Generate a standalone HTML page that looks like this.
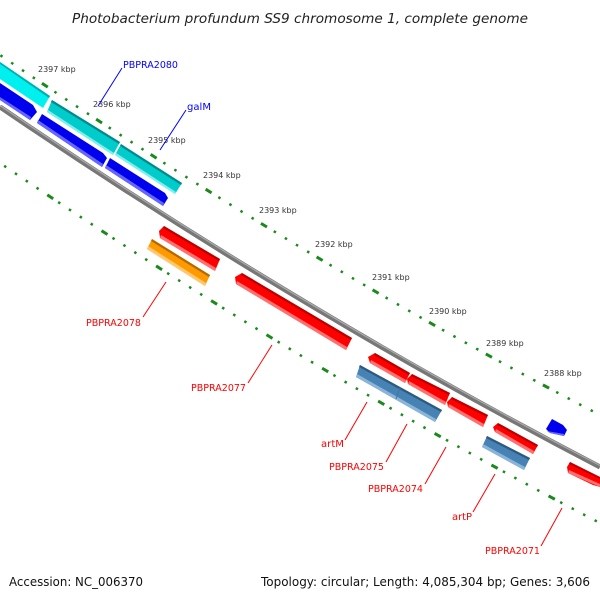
<!DOCTYPE html>
<html><head><meta charset="utf-8"><style>
body{margin:0;background:#fff}
svg{display:block}
text{font-family:"DejaVu Sans","Liberation Sans",sans-serif}
</style></head><body>
<svg width="600" height="600" viewBox="0 0 600 600" xmlns="http://www.w3.org/2000/svg">
<rect width="600" height="600" fill="#fff"/>
<text x="300" y="23" text-anchor="middle" font-size="13" font-style="italic" fill="#222" textLength="456" lengthAdjust="spacingAndGlyphs">Photobacterium profundum SS9 chromosome 1, complete genome</text>

<path d="M0,55 Q300,259 600,415" fill="none" stroke="#1a8a1a" stroke-width="2.5" stroke-dasharray="2.5 10.5" stroke-dashoffset="-0.5"/>
<path d="M0,55 Q300,259 600,415" fill="none" stroke="#1a8a1a" stroke-width="3" stroke-dasharray="7 58" stroke-dashoffset="-50.5"/>
<path d="M0,163 Q300,367 600,523" fill="none" stroke="#1a8a1a" stroke-width="2.5" stroke-dasharray="2.5 10.5" stroke-dashoffset="-5"/>
<path d="M0,163 Q300,367 600,523" fill="none" stroke="#1a8a1a" stroke-width="3" stroke-dasharray="7 58" stroke-dashoffset="-57"/>

<path d="M0,107 Q300,311 600,467" fill="none" stroke="#777" stroke-width="5"/>
<path d="M0,105.5 Q300,309.5 600,465.5" fill="none" stroke="#aaa" stroke-width="1.2"/>

<polygon points="0,62 50,96 43,108 0,79" fill="#00f0f0"/>
<polygon points="0,62 50,96 49,98 0,64" fill="#00b0b0"/>
<polygon points="52,100 120,142 113,155 47,112" fill="#00cccc"/>
<polygon points="52,100 120,142 119,144 51,102" fill="#008b8b"/>
<polygon points="48,110 114,153 113,155 47,112" fill="#80eeee"/>
<polygon points="121,144 182,183 175,194 115,155" fill="#00cccc"/>
<polygon points="121,144 182,183 181,185 120,146" fill="#008b8b"/>
<polygon points="116,153 176,192 175,194 115,155" fill="#80eeee"/>

<polygon points="0,83 33,105 37,112 30,120 0,100" fill="#0000ee"/>
<polygon points="0,97 31,117 30,120 0,100" fill="#6666ff"/>
<polygon points="42,114 103,153 107,158 102,167 37,123" fill="#0000ee"/>
<polygon points="38,120 103,164 102,167 37,123" fill="#6666ff"/>
<polygon points="110,158 165,193 168,198 163,206 105,168" fill="#0000ee"/>
<polygon points="106,165 164,203 163,206 105,168" fill="#6666ff"/>
<polygon points="552,419 563,425 567,430 564,436 550,433 546,429" fill="#0000ee"/>
<polygon points="547,431 564,434 564,436 550,433" fill="#6666ff"/>

<polygon points="152,239 210,275 205,286 147,249" fill="#ff9900"/>
<polygon points="152,239 210,275 209,277 151,241" fill="#b36b00"/>
<polygon points="148,246 206,283 205,286 147,249" fill="#ffc870"/>

<g fill="#ff0000">
<polygon points="164,226 220,259 215,271 160,238 159,231"/>
<polygon points="242,273 352,338 346,350 236,284 235,277"/>
<polygon points="375,353 410,373 405,383 370,363 368,357"/>
<polygon points="412,374 450,393 445,405 408,384 407,379"/>
<polygon points="452,397 488,415 483,427 448,407 447,402"/>
<polygon points="498,423 538,445 533,454 495,432 493,427"/>
<polygon points="570,462 600,477 600,487 593,485 568,473 567,467"/>
</g>
<g fill="#bb0000">
<polygon points="164,226 220,259 219,261 163,228"/>
<polygon points="242,273 352,338 351,340 241,275"/>
<polygon points="375,353 410,373 409,375 374,355"/>
<polygon points="412,374 450,393 449,395 411,376"/>
<polygon points="452,397 488,415 487,417 451,399"/>
<polygon points="498,423 538,445 537,447 497,425"/>
<polygon points="570,462 600,477 600,479 569,464"/>
</g>
<g fill="#ff7070">
<polygon points="161,235 216,268 215,271 160,238"/>
<polygon points="237,281 347,347 346,350 236,284"/>
<polygon points="371,360 406,380 405,383 370,363"/>
<polygon points="409,381 446,402 445,405 408,384"/>
<polygon points="449,404 484,424 483,427 448,407"/>
<polygon points="496,429 534,451 533,454 495,432"/>
<polygon points="569,470 600,484 600,487 568,473"/>
</g>

<polygon points="360,365 442,410 435,422 356,377" fill="#4682b4"/>
<polygon points="360,365 442,410 441,412 359,367" fill="#2f5a80"/>
<polygon points="357,374 436,419 435,422 356,377" fill="#8ab4d8"/>
<line x1="400" y1="388" x2="396" y2="399" stroke="#3f76a4" stroke-width="1"/>
<polygon points="487,436 530,458 524,470 482,447" fill="#4682b4"/>
<polygon points="487,436 530,458 529,460 486,438" fill="#2f5a80"/>
<polygon points="483,444 525,467 524,470 482,447" fill="#8ab4d8"/>

<g font-size="8" fill="#333">
<text x="38" y="72">2397 kbp</text>
<text x="93" y="107">2396 kbp</text>
<text x="148" y="143">2395 kbp</text>
<text x="203" y="178">2394 kbp</text>
<text x="259" y="213">2393 kbp</text>
<text x="315" y="247">2392 kbp</text>
<text x="372" y="280">2391 kbp</text>
<text x="429" y="314">2390 kbp</text>
<text x="486" y="346">2389 kbp</text>
<text x="544" y="376">2388 kbp</text>
</g>

<g stroke-width="1" fill="none">
<line x1="122" y1="68" x2="98" y2="106" stroke="#0000ff"/>
<line x1="186" y1="110" x2="160" y2="150" stroke="#0000ff"/>
<line x1="143" y1="317" x2="166" y2="282" stroke="#ff0000"/>
<line x1="248" y1="383" x2="272" y2="345" stroke="#ff0000"/>
<line x1="345" y1="440" x2="367" y2="402" stroke="#ff0000"/>
<line x1="386" y1="462" x2="407" y2="424" stroke="#ff0000"/>
<line x1="425" y1="484" x2="446" y2="447" stroke="#ff0000"/>
<line x1="473" y1="512" x2="495" y2="474" stroke="#ff0000"/>
<line x1="541" y1="546" x2="562" y2="508" stroke="#ff0000"/>
</g>
<g font-size="10">
<text x="123" y="68" fill="#0000ff" textLength="55" lengthAdjust="spacingAndGlyphs">PBPRA2080</text>
<text x="187" y="110" fill="#0000ff" textLength="24" lengthAdjust="spacingAndGlyphs">galM</text>
<g fill="#ff0000">
<text x="86" y="326" textLength="55" lengthAdjust="spacingAndGlyphs">PBPRA2078</text>
<text x="191" y="391" textLength="55" lengthAdjust="spacingAndGlyphs">PBPRA2077</text>
<text x="321" y="447" textLength="23" lengthAdjust="spacingAndGlyphs">artM</text>
<text x="329" y="470" textLength="55" lengthAdjust="spacingAndGlyphs">PBPRA2075</text>
<text x="368" y="492" textLength="55" lengthAdjust="spacingAndGlyphs">PBPRA2074</text>
<text x="452" y="520" textLength="20" lengthAdjust="spacingAndGlyphs">artP</text>
<text x="485" y="554" textLength="55" lengthAdjust="spacingAndGlyphs">PBPRA2071</text>
</g>
</g>

<text x="9" y="586" font-size="12" fill="#111" textLength="134" lengthAdjust="spacingAndGlyphs">Accession: NC_006370</text>
<text x="261" y="586" font-size="12" fill="#111" textLength="329" lengthAdjust="spacingAndGlyphs">Topology: circular; Length: 4,085,304 bp; Genes: 3,606</text>
</svg>
</body></html>
